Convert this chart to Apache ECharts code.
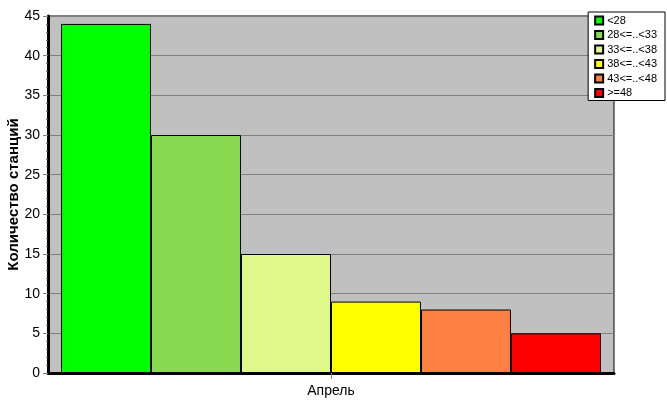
<!DOCTYPE html>
<html><head><meta charset="utf-8">
<script src="https://cdn.jsdelivr.net/npm/echarts@6/dist/echarts.min.js"></script>
<style>html,body{margin:0;padding:0;background:#fff}#c{width:667px;height:415px}</style>
</head><body><div id="c"></div>
<script>
const categories = ['Апрель'];
const seriesNames = ['<28', '28<=..<33', '33<=..<38', '38<=..<43', '43<=..<48', '>=48'];
const seriesValues = [44, 30, 15, 9, 8, 5];
const seriesColors = ['#00FF00', '#88D850', '#DFF88A', '#FFFF00', '#FF8040', '#FF0000'];
const yTicks = [0, 5, 10, 15, 20, 25, 30, 35, 40, 45];

const chart = echarts.init(document.getElementById('c'), null, {renderer: 'canvas'});
const font = 'Liberation Sans, Arial, sans-serif';
chart.setOption({
  animation: false,
  grid: {left: 48, right: 53, top: 16, bottom: 42, show: true, backgroundColor: '#C0C0C0', borderColor: '#000', borderWidth: 1, containLabel: false, outerBoundsMode: 'none'},
  legend: {
    orient: 'vertical', right: 2, top: 12,
    data: seriesNames,
    backgroundColor: '#fff', borderColor: '#000', borderWidth: 1,
    padding: [3, 8, 2, 6], itemGap: 3.5, itemWidth: 8, itemHeight: 8,
    icon: 'rect',
    textStyle: {fontFamily: font, fontSize: 11, color: '#000', padding: [0, 0, 0, -1]}
  },
  xAxis: {
    type: 'category', data: categories,
    axisLine: {lineStyle: {color: '#000', width: 3}},
    axisTick: {show: true, length: 6, lineStyle: {color: '#808080'}, alignWithLabel: true},
    axisLabel: {fontFamily: font, fontSize: 14, color: '#000', margin: 11}
  },
  yAxis: {
    type: 'value', min: yTicks[0], max: yTicks[yTicks.length - 1], interval: 5,
    name: 'Количество станций', nameLocation: 'middle', nameGap: 27, nameMoveOverlap: false,
    nameTextStyle: {fontFamily: font, fontSize: 15, fontWeight: 'bold', color: '#000'},
    axisLine: {show: true, lineStyle: {color: '#000', width: 3}},
    axisTick: {show: true, length: 5, lineStyle: {color: '#808080'}},
    minorTick: {show: true, splitNumber: 5, length: 2, lineStyle: {color: '#606060'}},
    splitLine: {show: true, lineStyle: {color: '#808080', width: 1}},
    axisLabel: {fontFamily: font, fontSize: 14, color: '#000', margin: 8}
  },
  series: seriesNames.map((n, i) => ({
    name: n, type: 'bar',
    data: [seriesValues[i]],
    barGap: 0, barCategoryGap: '4.6%',
    itemStyle: {color: seriesColors[i], borderColor: '#000', borderWidth: 1}
  }))
});
</script></body></html>
